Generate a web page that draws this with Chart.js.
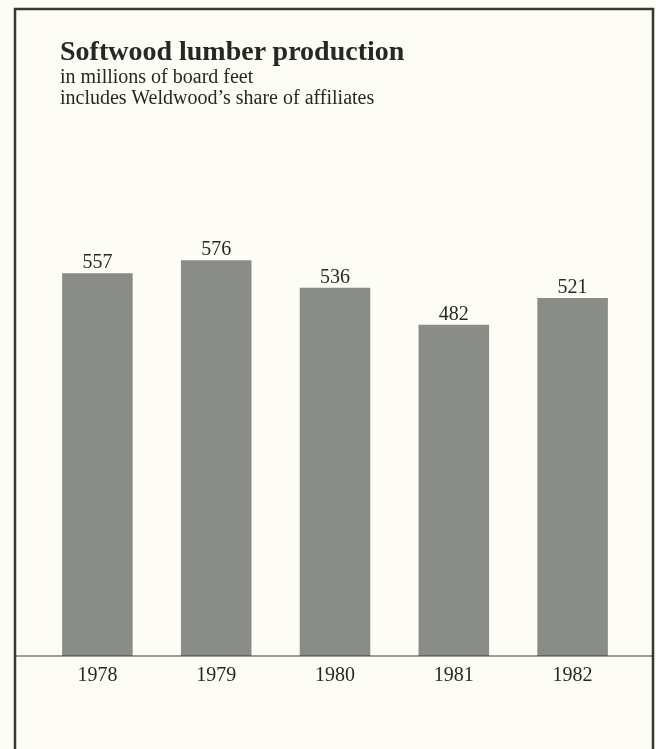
<!DOCTYPE html>
<html>
<head>
<meta charset="utf-8">
<script src="https://cdn.jsdelivr.net/npm/chart.js@4.4.0/dist/chart.umd.min.js"></script>
<style>
  body { margin: 0; background: #fdfdf6; }
  #wrap { position: relative; width: 656px; height: 749px; overflow: hidden; }
  #chart { position: absolute; left: 0; top: 0; }
  .ttl { position: absolute; left: 60px; color: #262825; font-family: "Liberation Serif", serif; white-space: nowrap; }
  #title { top: 37px; font-size: 28px; line-height: 28px; font-weight: bold; }
  #sub { top: 66px; font-size: 20px; line-height: 21px; }
</style>
</head>
<body>
<div id="wrap">
  <canvas id="chart" width="656" height="749"></canvas>
  <div class="ttl" id="title">Softwood lumber production</div>
  <div class="ttl" id="sub">in millions of board feet<br>includes Weldwood’s share of affiliates</div>
</div>
<script>
const years = ["1978", "1979", "1980", "1981", "1982"];
const production = [557, 576, 536, 482, 521];
const barColor = "rgb(137, 140, 135)";
const inkColor = "#262825";

// frame round the panel, open at the bottom
const framePlugin = {
  id: "frame",
  beforeDraw(chart) {
    const c = chart.ctx;
    c.save();
    c.fillStyle = "#fdfdf6";
    c.fillRect(0, 0, chart.width, chart.height);
    c.strokeStyle = "#353835";
    c.lineWidth = 2.5;
    c.beginPath();
    c.moveTo(15, chart.height);
    c.lineTo(15, 9);
    c.lineTo(653, 9);
    c.lineTo(653, chart.height);
    c.stroke();
    c.restore();
  },
  afterDatasetsDraw(chart) {
    const c = chart.ctx;
    const y0 = chart.scales.y.getPixelForValue(0);
    c.save();
    c.strokeStyle = "#3a3a3c";
    c.lineWidth = 1.2;
    c.beginPath();
    c.moveTo(15, y0);
    c.lineTo(653, y0);
    c.stroke();

    // value above each bar
    c.fillStyle = inkColor;
    c.font = "20px 'Liberation Serif'";
    c.textAlign = "center";
    c.textBaseline = "alphabetic";
    chart.getDatasetMeta(0).data.forEach((bar, i) => {
      c.fillText(production[i], bar.x, bar.y - 5);
    });
    c.restore();
  }
};

new Chart(document.getElementById("chart"), {
  type: "bar",
  data: {
    labels: years,
    datasets: [{
      data: production,
      backgroundColor: barColor,
      borderWidth: 0,
      barPercentage: 0.594,
      categoryPercentage: 1
    }]
  },
  options: {
    responsive: false,
    animation: false,
    layout: { padding: { left: 38, right: 24, top: 175, bottom: 53 } },
    plugins: {
      legend: { display: false },
      tooltip: { enabled: false }
    },
    scales: {
      x: {
        grid: { display: false, drawTicks: false },
        border: { display: false },
        ticks: {
          padding: 8,
          color: inkColor,
          font: { family: "Liberation Serif", size: 20 }
        }
      },
      y: {
        display: false,
        min: 0,
        max: 700
      }
    }
  },
  plugins: [framePlugin]
});
</script>
</body>
</html>
